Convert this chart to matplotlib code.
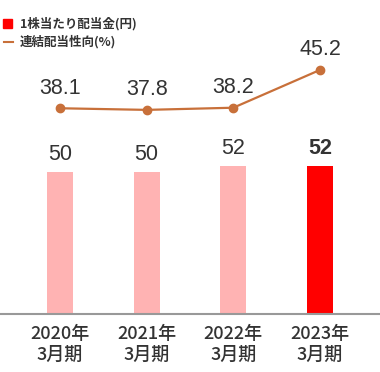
import matplotlib
matplotlib.use("Agg")
import matplotlib.pyplot as plt
import numpy as np

plt.rcParams['font.family'] = ['Liberation Sans', 'Noto Sans CJK JP', 'DejaVu Sans']

periods = ["2020年\n3月期", "2021年\n3月期", "2022年\n3月期", "2023年\n3月期"]
dividends = [50, 50, 52, 52]
payout_ratio = [38.1, 37.8, 38.2, 45.2]
dividend_labels = ["50", "50", "52", "52"]
payout_labels = ["38.1", "37.8", "38.2", "45.2"]

bar_colors = ["#FFB3B3", "#FFB3B3", "#FFB3B3", "#FF0000"]
line_color = "#C8703A"
text_color = "#333333"

fig = plt.figure(figsize=(3.8, 3.72), dpi=100)
ax = fig.add_axes([0, 58 / 372, 1, 274 / 372])
ax2 = ax.twinx()

x = np.arange(len(periods))
ax.bar(x, dividends, width=0.30, color=bar_colors, zorder=2)
ax.set_xlim(-0.692, 3.692)
ax.set_ylim(0, 274 / 2.84)

for i, (v, lab) in enumerate(zip(dividends, dividend_labels)):
    last = i == len(dividends) - 1
    ax.annotate(lab, (x[i], v), xytext=(0, 5), textcoords="offset points",
                ha="center", va="bottom", fontsize=15.5, color=text_color,
                fontweight="bold" if last else "normal")

ax2.plot(x, payout_ratio, color=line_color, lw=1.6, marker="o", ms=6, zorder=3)
ax2.set_ylim(0, 274 / 5.4)
for i, (v, lab) in enumerate(zip(payout_ratio, payout_labels)):
    ax2.annotate(lab, (x[i], v), xytext=(0, 7), textcoords="offset points",
                 ha="center", va="bottom", fontsize=15.5, color=text_color)

for a in (ax, ax2):
    for s in ["top", "left", "right"]:
        a.spines[s].set_visible(False)
    a.set_yticks([])
ax2.spines["bottom"].set_visible(False)
ax.spines["bottom"].set_color("#999999")
ax.spines["bottom"].set_linewidth(1.5)

ax.set_xticks(x)
ax.set_xticklabels(periods, fontsize=13, color=text_color,
                   family=['Noto Sans CJK JP'], fontweight="medium",
                   linespacing=1.2)
ax.tick_params(axis="x", length=0, pad=8)

# legend
fig.patches.append(plt.Rectangle((3 / 380, 1 - 28 / 372), 9 / 380, 9 / 372,
                                 transform=fig.transFigure, color="#FF0000"))
fig.lines.append(plt.Line2D([4 / 380, 13 / 380], [1 - 42 / 372, 1 - 42 / 372],
                            transform=fig.transFigure, color=line_color, lw=1.5))
fig.text(20 / 380, 1 - 24 / 372, "1株当たり配当金(円)", fontsize=9, color=text_color,
         va="center", family=['Noto Sans CJK JP'], fontweight="bold")
fig.text(20 / 380, 1 - 42 / 372, "連結配当性向(%)", fontsize=9, color=text_color,
         va="center", family=['Noto Sans CJK JP'], fontweight="bold")

fig.savefig("out.png", dpi=100)
